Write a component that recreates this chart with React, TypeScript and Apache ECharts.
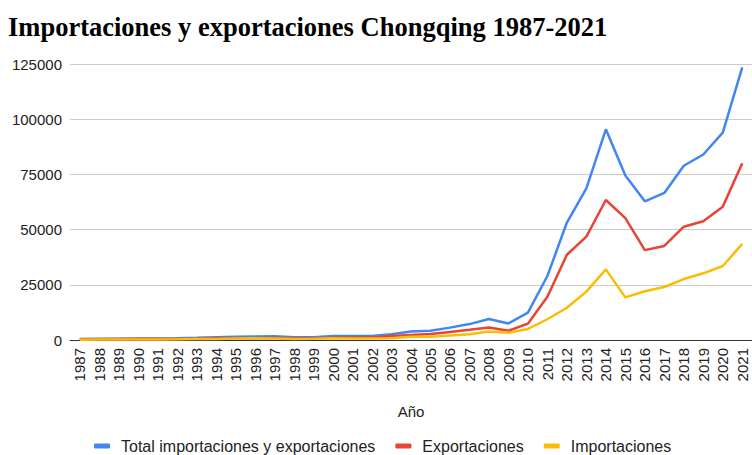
import React, { useEffect, useRef } from "react";
import * as echarts from "echarts";

const years = [
  "1987","1988","1989","1990","1991","1992","1993","1994","1995","1996","1997","1998",
  "1999","2000","2001","2002","2003","2004","2005","2006","2007","2008","2009","2010",
  "2011","2012","2013","2014","2015","2016","2017","2018","2019","2020","2021",
];
const total = [
  450, 550, 600, 650, 700, 800, 1000, 1250, 1500, 1600, 1650, 1300,
  1200, 1800, 1800, 1800, 2600, 3800, 4200, 5600, 7200, 9500, 7500, 12400,
  29000, 53200, 68700, 95400, 74500, 62800, 66600, 78900, 84000, 93900, 123500,
];
const exportsData = [
  300, 350, 400, 430, 450, 500, 550, 750, 800, 800, 950, 800,
  650, 1000, 1100, 1100, 1800, 2300, 2700, 3600, 4600, 5700, 4200, 7400,
  19600, 38600, 46800, 63400, 55200, 40700, 42600, 51300, 53800, 60400, 80000,
];
const importsData = [
  150, 200, 200, 220, 250, 300, 450, 500, 700, 800, 700, 500,
  550, 800, 700, 700, 800, 1500, 1500, 2000, 2600, 3800, 3300, 5000,
  9400, 14600, 21900, 32000, 19300, 22100, 24000, 27600, 30200, 33500, 43500,
];
const yTicks = [0, 25000, 50000, 75000, 100000, 125000];
const seriesNames = ["Total importaciones y exportaciones", "Exportaciones", "Importaciones"];

export default function App() {
  const ref = useRef<HTMLDivElement>(null);
  useEffect(() => {
    if (!ref.current) return;
    const chart = echarts.init(ref.current, undefined, { renderer: "svg" });
    const font = "Liberation Sans, Arial, sans-serif";
    chart.setOption({
      animation: false,
      title: {
        text: "Importaciones y exportaciones Chongqing 1987-2021",
        left: 3,
        top: 8,
        textStyle: {
          fontFamily: "Liberation Serif, Times New Roman, serif",
          fontWeight: "bold",
          fontSize: 26.5,
          color: "#000",
        },
      },
      color: ["#4285F4", "#EA4335", "#FBBC04"],
      legend: {
        left: 94,
        top: 438,
        padding: 0,
        itemWidth: 16,
        itemHeight: 5,
        itemGap: 20,
        icon: "roundRect",
        textStyle: { fontFamily: font, fontSize: 16, color: "#222", padding: [0, 0, 0, 6] },
        data: seriesNames,
      },
      grid: { left: 70, top: 64, width: 683, height: 276 },
      xAxis: {
        type: "category",
        data: years,
        boundaryGap: true,
        name: "Año",
        nameLocation: "middle",
        nameGap: 64,
        nameTextStyle: { fontFamily: font, fontSize: 15, color: "#222" },
        axisLine: { lineStyle: { color: "#333", width: 1 } },
        axisTick: { show: false },
        axisLabel: {
          rotate: 90,
          interval: 0,
          fontFamily: font,
          fontSize: 15,
          color: "#222",
          margin: 8,
        },
      },
      yAxis: {
        type: "value",
        min: yTicks[0],
        max: yTicks[yTicks.length - 1],
        interval: 25000,
        axisLine: { show: false },
        axisTick: { show: false },
        axisLabel: {
          fontFamily: font,
          fontSize: 15,
          color: "#222",
          margin: 8,
          formatter: (v: number) => String(v),
        },
        splitLine: { lineStyle: { color: "#ccc", width: 1 } },
      },
      series: [
        { name: seriesNames[0], type: "line", data: total, symbol: "none", lineStyle: { width: 2.5 } },
        { name: seriesNames[1], type: "line", data: exportsData, symbol: "none", lineStyle: { width: 2.5 } },
        { name: seriesNames[2], type: "line", data: importsData, symbol: "none", lineStyle: { width: 2.5 } },
      ],
    });
    return () => chart.dispose();
  }, []);
  return <div ref={ref} style={{ width: 752, height: 455, position: "absolute", left: 0, top: 0 }} />;
}
